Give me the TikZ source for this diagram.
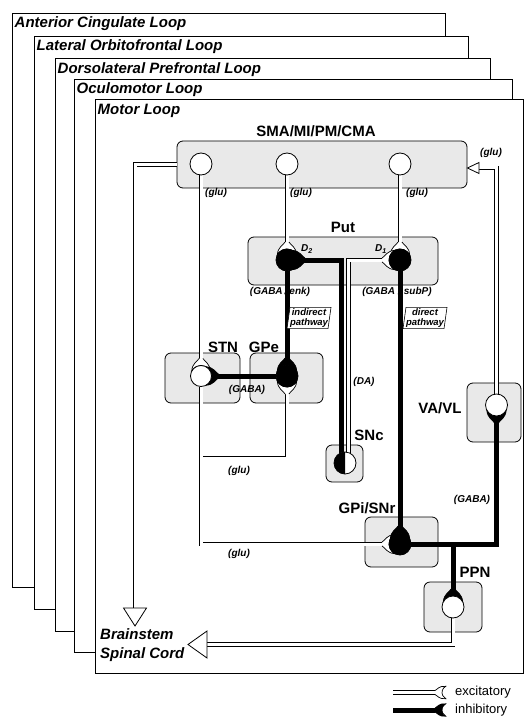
\documentclass[tikz,border=0pt]{standalone}
\usepackage{fontspec}
\setmainfont{Liberation Sans}
\usetikzlibrary{shapes.geometric, positioning, calc}
\pgfdeclarelayer{fondo}
\pgfdeclarelayer{lineas}
\pgfsetlayers{fondo,lineas,main}
\tikzset{
  loopframe/.style={draw, fill=white, line width=0.8pt},
  looptitle/.style={anchor=base west, inner sep=0pt, font=\fontsize{15}{17}\selectfont\bfseries\itshape},
  nucleus/.style={draw, rectangle, rounded corners=6pt, fill=gray!17, line width=0.8pt, inner sep=0pt},
  nuclabel/.style={anchor=base, inner sep=0pt, font=\fontsize{15}{17}\selectfont\bfseries},
  nt/.style={inner sep=0pt, font=\fontsize{10}{11}\selectfont\bfseries\itshape},
  cell/.style={circle, draw, fill=white, line width=0.8pt, inner sep=0pt, minimum size=22pt},
  gabacell/.style={cell, fill=black},
  glu/.style={double=white, double distance=3pt, line width=0.9pt},
  gaba/.style={line width=5pt},
  pathbox/.style={trapezium, trapezium left angle=82, trapezium right angle=98, draw, fill=white, line width=0.6pt, align=center, inner xsep=0pt, inner ysep=1pt, font=\fontsize{9.5}{10.5}\selectfont\bfseries\itshape},
  legtext/.style={anchor=west, inner sep=0pt, font=\fontsize{13}{15}\selectfont}
}
% terminal: #1 relleno, #2 celula, #3 angulo de llegada, #4 radio
\newcommand{\sinapsis}[4]{%
  \fill[#1, shift={(#2)}, rotate=#3]
    (-62:#4) .. controls (-35:#4+5) and (#4+4,-3.5) .. (#4+7,-1.95)
    -- (#4+7,1.95) .. controls (#4+4,3.5) and (35:#4+5) .. (62:#4)
    arc[start angle=62, end angle=-62, radius=#4] -- cycle;
  \draw[line width=0.7pt, shift={(#2)}, rotate=#3]
    (#4+7,-1.95) .. controls (#4+4,-3.5) and (-35:#4+5) .. (-62:#4)
    arc[start angle=-62, end angle=62, radius=#4]
    .. controls (35:#4+5) and (#4+4,3.5) .. (#4+7,1.95);}
% punta abierta: #1 base, #2 punta, #3 semiancho
\newcommand{\puntaabierta}[3]{%
  \draw[fill=white, line width=0.8pt] (#2) -- ($(#1)!#3!90:(#2)$) -- ($(#1)!#3!-90:(#2)$) -- cycle;}

\begin{document}
\begin{tikzpicture}[x=1pt, y=1pt]
    \useasboundingbox (0,0) rectangle (525,-727);

    \begin{pgfonlayer}{fondo}
        % Marcos de los cinco circuitos
        \draw[loopframe] (12,-13) rectangle (445,-587);
        \node[looptitle] (tacc) at (14.5,-28) {Anterior Cingulate Loop};
        \draw[loopframe] (34,-36) rectangle (468,-609);
        \node[looptitle] (tlof) at (36.5,-51) {Lateral Orbitofrontal Loop};
        \draw[loopframe] (55,-58) rectangle (490,-631);
        \node[looptitle] (tdlpf) at (57.5,-73.5) {Dorsolateral Prefrontal Loop};
        \draw[loopframe] (74,-79) rectangle (512,-652);
        \node[looptitle] (toc) at (76.5,-94) {Oculomotor Loop};
        \draw[loopframe] (95,-99) rectangle (523,-673);
        \node[looptitle] (tmot) at (97.5,-114.5) {Motor Loop};

        % Nucleos
        \node[nucleus, minimum width=290pt, minimum height=47pt] (smabox) at (322,-164.5) {};
        \node[nucleus, minimum width=190pt, minimum height=48pt] (putbox) at (343,-261) {};
        \node[nucleus, minimum width=75pt, minimum height=50pt] (stnbox) at (202.5,-378) {};
        \node[nucleus, minimum width=73pt, minimum height=50pt] (gpebox) at (286.5,-378) {};
        \node[nucleus, minimum width=37pt, minimum height=37pt] (sncbox) at (344.5,-463.5) {};
        \node[nucleus, minimum width=73pt, minimum height=50pt] (gpibox) at (401.5,-542) {};
        \node[nucleus, minimum width=54pt, minimum height=59pt] (vavlbox) at (494,-412.5) {};
        \node[nucleus, minimum width=58pt, minimum height=50pt] (ppnbox) at (453,-607) {};

        \node[nuclabel] (labsma) at (316,-137) {SMA/MI/PM/CMA};
        \node[nuclabel] (labput) at (343,-233) {Put};
        \node[nuclabel] (labstn) at (223,-352) {STN};
        \node[nuclabel] (labgpe) at (264,-352) {GPe};
        \node[nuclabel] (labsnc) at (369,-440) {SNc};
        \node[nuclabel] (labgpi) at (367,-513) {GPi/SNr};
        \node[nuclabel] (labvavl) at (440,-413) {VA/VL};
        \node[nuclabel] (labppn) at (475,-577) {PPN};
        \node[looptitle] (labbs) at (100,-639) {Brainstem};
        \node[looptitle] (labsc) at (100,-658) {Spinal Cord};

        % Neurotransmisores
        \node[nt] (glu1) at (216,-193) {(glu)};
        \node[nt] (glu2) at (301,-193) {(glu)};
        \node[nt] (glu3) at (417,-193) {(glu)};
        \node[nt] (glu4) at (491,-153) {(glu)};
        \node[nt] (glu5) at (239,-471) {(glu)};
        \node[nt] (glu6) at (239,-554) {(glu)};
        \node[nt] (enk) at (280,-292) {(GABA\kern2pt/\kern2pt enk)};
        \node[nt] (subp) at (397,-292) {(GABA\kern3pt/\kern3pt subP)};
        \node[nt] (gaba1) at (247,-390) {(GABA)};
        \node[nt] (gaba2) at (472,-500) {(GABA)};
        \node[nt] (da) at (364,-382) {(DA)};
        \node[nt] (labd2) at (307,-249) {D\textsubscript{2}};
        \node[nt] (labd1) at (381,-249) {D\textsubscript{1}};
    \end{pgfonlayer}

    % Neuronas
    \node[cell] (sma1) at (201,-164) {};
    \node[cell] (sma2) at (287,-164) {};
    \node[cell] (sma3) at (400,-164) {};
    \node[gabacell] (d2) at (287,-260) {};
    \node[gabacell] (d1) at (400,-260) {};
    \node[cell, minimum size=21pt] (stn) at (201,-376) {};
    \node[gabacell] (gpe) at (287,-376) {};
    \node[cell] (snc) at (345,-463) {};
    \fill ($(snc)+(0,11)$) arc[start angle=90, end angle=270, radius=11] -- cycle;
    \node[gabacell] (gpi) at (400,-544) {};
    \node[cell] (vavl) at (496.5,-405) {};
    \node[cell] (ppn) at (453,-607) {};

    \coordinate (split) at (201,-458);
    \coordinate (bsdown) at (135,-608);
    \coordinate (bsdowntip) at (135,-626);
    \coordinate (bsleft) at (207,-644.5);
    \coordinate (bslefttip) at (188,-644.5);
    \coordinate (smain) at (479,-168);
    \coordinate (smatip) at (smabox.east |- smain);

    \begin{pgfonlayer}{lineas}
        % Vias excitatorias
        \draw[glu] (sma1) -- (stn)
            (sma2) -- (d2)
            (sma3) -- (d1)
            (smabox.west) -| (bsdown)
            (vavl) |- (smain)
            (stn) -- (stn |- gpi) -- (gpi)
            (split) -| (gpe)
            (ppn) |- (bsleft)
            ($(snc)+(3.5,0)$) |- (d1);
        \puntaabierta{bsdown}{bsdowntip}{11.5pt}
        \puntaabierta{bsleft}{bslefttip}{13.5pt}
        \puntaabierta{smain}{smatip}{5.5pt}

        % Vias inhibitorias
        \draw[gaba] (d2) -- (gpe)
            (d1) -- (gpi)
            (gpe) -- (stn)
            (gpi) -| (vavl)
            (gpi -| ppn) -- (ppn)
            ($(snc)+(-3.5,0)$) |- (d2);

        \sinapsis{white}{stn}{90}{10.5}
        \sinapsis{white}{d2}{90}{11}
        \sinapsis{white}{d1}{90}{11}
        \sinapsis{white}{gpe}{-90}{11}
        \sinapsis{white}{gpi}{180}{11}
        \sinapsis{white}{d1}{180}{11}
        \sinapsis{black}{gpe}{90}{11}
        \sinapsis{black}{gpi}{90}{11}
        \sinapsis{black}{stn}{0}{10.5}
        \sinapsis{black}{vavl}{-90}{11}
        \sinapsis{black}{ppn}{90}{11}
        \sinapsis{black}{d2}{0}{11}
    \end{pgfonlayer}

    \node[pathbox] (indir) at (309,-318) {indirect\\pathway};
    \node[pathbox] (dir) at (425,-318) {direct\\pathway};

    % Leyenda
    \coordinate (exca) at (393,-692.5);
    \coordinate (excb) at (435,-692.5);
    \coordinate (excc) at (449,-692.5);
    \coordinate (inha) at (393,-710);
    \coordinate (inhb) at (435,-710);
    \coordinate (inhc) at (449,-710);
    \draw[glu] (exca) -- (excb);
    \sinapsis{white}{excc}{180}{7}
    \draw[gaba] (inha) -- (inhb);
    \sinapsis{black}{inhc}{180}{7}
    \node[legtext, right=6pt of excc] (exctext) {excitatory};
    \node[legtext, right=6pt of inhc] (inhtext) {inhibitory};
\end{tikzpicture}
\end{document}
